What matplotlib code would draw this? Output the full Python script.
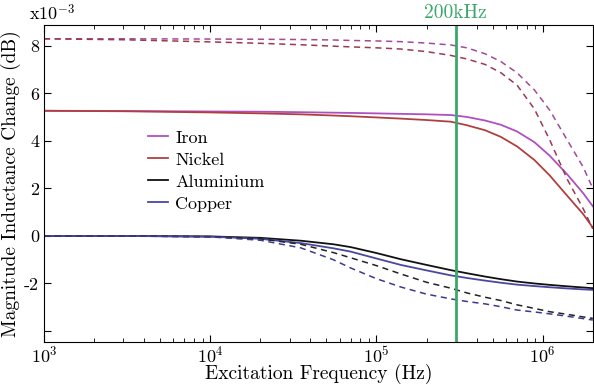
import matplotlib
matplotlib.use('Agg')
import matplotlib.pyplot as plt

plt.rcParams['font.family'] = 'serif'
plt.rcParams['font.serif'] = ['cmr10', 'DejaVu Serif']
plt.rcParams['mathtext.fontset'] = 'cm'
plt.rcParams['axes.formatter.use_mathtext'] = True
plt.rcParams['axes.unicode_minus'] = False

freq = [1e3, 3e3, 1e4, 2e4, 3.5e4, 5.5e4, 7e4, 1e5, 1.4e5, 2e5, 2.8e5, 3.5e5,
        4.5e5, 5.6e5, 7e5, 8.9e5, 1.1e6, 1.4e6, 1.75e6, 2e6]

# values in units of 1e-3 dB
iron = [5.27, 5.26, 5.24, 5.23, 5.21, 5.19, 5.18, 5.16, 5.14, 5.12, 5.09, 5.01,
        4.86, 4.68, 4.4, 3.95, 3.38, 2.6, 1.8, 1.25]
nickel = [5.27, 5.25, 5.2, 5.16, 5.12, 5.07, 5.04, 4.99, 4.94, 4.88, 4.81, 4.66,
          4.45, 4.17, 3.77, 3.2, 2.55, 1.7, 0.92, 0.35]
aluminium = [0, 0, -0.02, -0.08, -0.2, -0.35, -0.47, -0.72, -0.98, -1.22, -1.44, -1.57,
             -1.71, -1.82, -1.92, -2.0, -2.06, -2.12, -2.17, -2.2]
copper = [0, 0, -0.03, -0.12, -0.3, -0.52, -0.66, -0.95, -1.22, -1.45, -1.66, -1.77,
          -1.88, -1.97, -2.05, -2.11, -2.16, -2.21, -2.25, -2.27]

iron_d = [8.3, 8.3, 8.29, 8.28, 8.27, 8.25, 8.23, 8.21, 8.18, 8.12, 8.04, 7.92,
          7.67, 7.34, 6.87, 6.15, 5.3, 4.05, 2.9, 2.0]
nickel_d = [8.3, 8.26, 8.17, 8.11, 8.05, 7.99, 7.96, 7.92, 7.87, 7.76, 7.6, 7.45,
            7.22, 6.87, 6.35, 5.35, 4.05, 2.4, 1.15, 0.3]
aluminium_d = [0, 0, -0.03, -0.12, -0.35, -0.7, -0.92, -1.25, -1.6, -1.95, -2.2, -2.4,
               -2.58, -2.72, -2.9, -3.05, -3.19, -3.3, -3.41, -3.47]
copper_d = [0, 0, -0.04, -0.18, -0.5, -1.0, -1.35, -1.8, -2.15, -2.45, -2.65, -2.76,
            -2.86, -2.98, -3.12, -3.2, -3.28, -3.38, -3.48, -3.54]

marker_freq = 3e5


def main():
    fig = plt.figure(figsize=(5.94, 3.85), dpi=100)
    ax = fig.add_axes([0.074, 0.112, 0.924, 0.823])

    ax.plot(freq, iron, color='#b050c0', lw=1.3, label='Iron')
    ax.plot(freq, nickel, color='#b04040', lw=1.3, label='Nickel')
    ax.plot(freq, aluminium, color='#111111', lw=1.3, label='Aluminium')
    ax.plot(freq, copper, color='#4848a0', lw=1.3, label='Copper')

    ax.plot(freq, iron_d, '--', color='#a04a9a', lw=1.1, dashes=(4, 3))
    ax.plot(freq, nickel_d, '--', color='#9a3a50', lw=1.1, dashes=(4, 3))
    ax.plot(freq, aluminium_d, '--', color='#222222', lw=1.1, dashes=(4, 3))
    ax.plot(freq, copper_d, '--', color='#3a3a90', lw=1.1, dashes=(4, 3))

    ax.axvline(marker_freq, color='#3aa86a', lw=2)
    ax.text(marker_freq, 9.0, '200kHz', color='#3aa86a', ha='center',
            va='bottom', fontsize=14)

    ax.set_xscale('log')
    ax.set_xlim(1e3, 2e6)
    ax.set_ylim(-4.46, 8.88)
    ax.set_yticks([-4, -2, 0, 2, 4, 6, 8])
    ax.set_yticklabels(['', '-2', '0', '2', '4', '6', '8'])
    ax.tick_params(which='both', direction='in', top=True, right=True,
                   labelsize=13)
    ax.tick_params(axis='x', pad=2)
    ax.tick_params(which='major', length=5)
    ax.tick_params(which='minor', length=3)

    ax.set_xlabel('Excitation Frequency (Hz)', fontsize=14, labelpad=-1)
    ax.set_ylabel('Magnitude Inductance Change (dB)', fontsize=14, labelpad=2)
    fig.text(0.048, 0.94, r'x$10^{-3}$', fontsize=13, ha='left', va='bottom')

    ax.legend(loc='upper left', bbox_to_anchor=(0.16, 0.72), frameon=False,
              handlelength=1.1, handletextpad=0.4, labelspacing=0.35,
              fontsize=13)

    fig.savefig('out.png', dpi=100)


if __name__ == '__main__':
    main()
